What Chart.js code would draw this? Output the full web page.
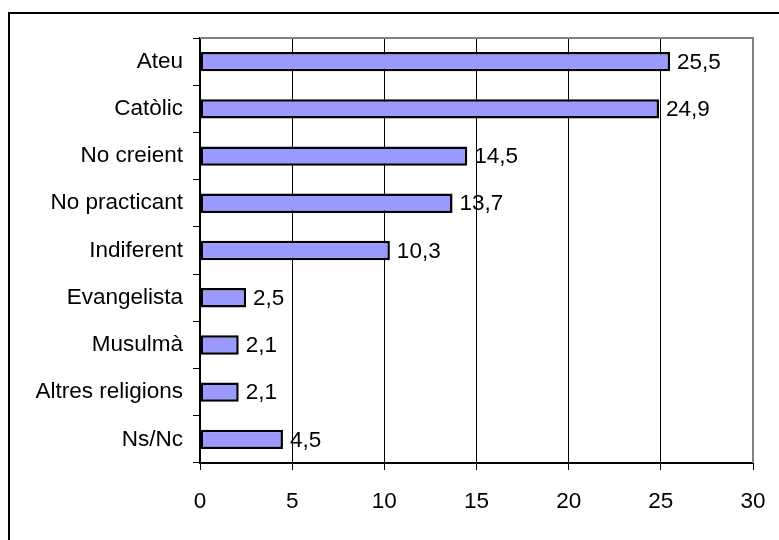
<!doctype html>
<html>
<head>
<meta charset="utf-8">
<title>Religió</title>
<script src="https://cdn.jsdelivr.net/npm/chart.js"></script>
<style>
  html, body { margin: 0; padding: 0; background: #fff; }
  #wrap { position: relative; width: 779px; height: 540px; }
</style>
</head>
<body>
<div id="wrap"><canvas id="relChart" width="779" height="540"></canvas></div>
<script>
// data
const categories = ['Ateu', 'Catòlic', 'No creient', 'No practicant', 'Indiferent',
                    'Evangelista', 'Musulmà', 'Altres religions', 'Ns/Nc'];
const percentages = [25.5, 24.9, 14.5, 13.7, 10.3, 2.5, 2.1, 2.1, 4.5];
const xTicks = [0, 5, 10, 15, 20, 25, 30];

const FONT = "'Liberation Sans', Arial, sans-serif";
const FSIZE = 22.5;

// outer frame and the grey box round the plot
const framePlugin = {
  id: 'frame',
  beforeDraw(chart) {
    const c = chart.ctx;
    c.save();
    c.fillStyle = '#fff';
    c.fillRect(0, 0, chart.width, chart.height);
    c.strokeStyle = '#000';
    c.lineWidth = 2;
    c.strokeRect(9, 13, chart.width + 20, chart.height + 20);
    c.restore();
  },
  beforeDatasetsDraw(chart) {
    const a = chart.chartArea;
    const c = chart.ctx;
    c.save();
    c.strokeStyle = '#808080';
    c.lineWidth = 2;
    c.beginPath();
    c.moveTo(a.left, a.top);
    c.lineTo(a.right, a.top);
    c.lineTo(a.right, a.bottom);
    c.stroke();
    c.restore();
  }
};

// value labels to the right of each bar
const valueLabels = {
  id: 'valueLabels',
  afterDatasetsDraw(chart) {
    const c = chart.ctx;
    const meta = chart.getDatasetMeta(0);
    c.save();
    c.font = FSIZE + 'px ' + FONT;
    c.fillStyle = '#000';
    c.textAlign = 'left';
    c.textBaseline = 'middle';
    meta.data.forEach((bar, i) => {
      const txt = String(percentages[i]).replace('.', ',');
      c.fillText(txt, bar.x + 7, bar.y + 1);
    });
    c.restore();
  }
};

new Chart(document.getElementById('relChart'), {
  type: 'bar',
  data: {
    labels: categories,
    datasets: [{
      data: percentages,
      backgroundColor: '#9999FF',
      borderColor: '#000',
      borderWidth: 2.5,
      borderSkipped: false,
      barPercentage: 0.41,
      categoryPercentage: 1
    }]
  },
  options: {
    indexAxis: 'y',
    responsive: false,
    animation: false,
    layout: { padding: { top: 38, right: 26, left: 0, bottom: 0 } },
    plugins: { legend: { display: false }, tooltip: { enabled: false } },
    scales: {
      x: {
        min: 0,
        max: 30,
        afterBuildTicks(scale) { scale.ticks = xTicks.map(v => ({ value: v })); },
        afterFit(scale) {
          scale.height = 540 - 463;
          scale.paddingLeft = 0;
          scale.paddingRight = 0;
        },
        grid: { color: '#000', lineWidth: 1, tickLength: 7, drawOnChartArea: true },
        border: { color: '#000', width: 2 },
        ticks: { color: '#000', font: { family: FONT, size: FSIZE }, padding: 18 }
      },
      y: {
        afterFit(scale) { scale.width = 200; },
        grid: { color: '#000', lineWidth: 1, tickLength: 7, drawOnChartArea: false, offset: true },
        border: { color: '#000', width: 2 },
        ticks: { color: '#000', font: { family: FONT, size: FSIZE }, padding: 10 }
      }
    }
  },
  plugins: [framePlugin, valueLabels]
});
</script>
</body>
</html>
